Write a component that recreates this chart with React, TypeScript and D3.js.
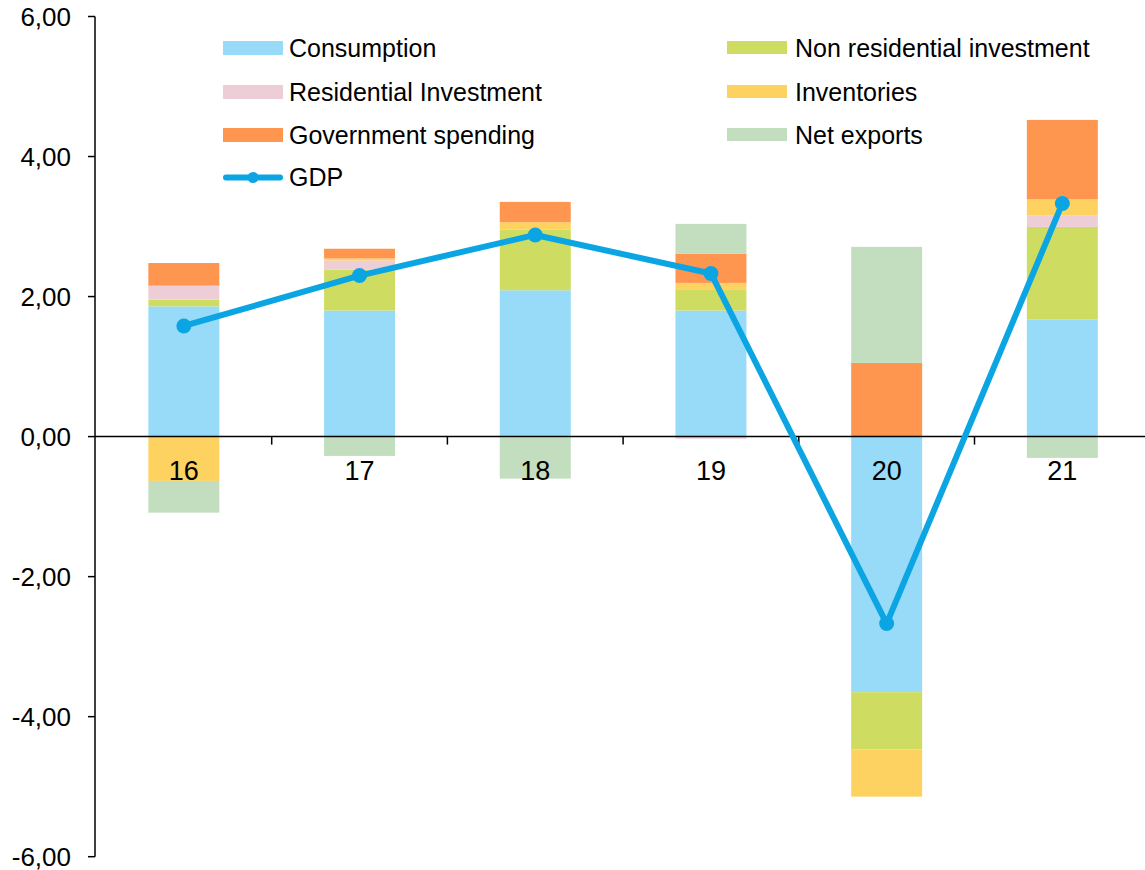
import React from "react";
import * as d3 from "d3";

const categories = ["16", "17", "18", "19", "20", "21"];
const consumption = [1.86, 1.8, 2.09, 1.8, -3.65, 1.67];
const nonResInvestment = [0.095, 0.585, 0.866, 0.295, -0.815, 1.325];
const resInvestment = [0.2, 0.13, -0.02, -0.03, 0, 0.167];
const inventories = [-0.633, 0.03, 0.106, 0.1, -0.677, 0.228];
const government = [0.324, 0.138, 0.29, 0.419, 1.053, 1.133];
const netExports = [-0.453, -0.276, -0.58, 0.424, 1.657, -0.304];
const gdp = [1.58, 2.3, 2.88, 2.33, -2.67, 3.33];
const yTicks = [-6, -4, -2, 0, 2, 4, 6];

const seriesNames = [
  "Consumption",
  "Non residential investment",
  "Residential Investment",
  "Inventories",
  "Government spending",
  "Net exports",
];
const seriesValues = [consumption, nonResInvestment, resInvestment, inventories, government, netExports];
const colors = ["#97DBF8", "#CEDD62", "#EDCDD6", "#FED260", "#FF9650", "#C2DEBF"];
const gdpColor = "#0BA5E3";

const W = 1145;
const H = 870;
const FONT = "'Liberation Sans', Arial, sans-serif";

export default function App() {
  const x = d3
    .scaleBand<string>()
    .domain(categories)
    .range([96, 1150.2])
    .paddingInner(0.596)
    .paddingOuter(0.298);
  const y = d3.scaleLinear().domain([-6, 6]).range([856.7, 16.5]);
  const step = x.step();

  const table = categories.map((c, i) => {
    const row: any = { cat: c };
    seriesNames.forEach((s, j) => (row[s] = seriesValues[j][i]));
    return row;
  });
  const stacked = d3.stack<any>().keys(seriesNames).offset(d3.stackOffsetDiverging)(table);

  const line = d3
    .line<number>()
    .x((_, i) => (x(categories[i]) as number) + x.bandwidth() / 2)
    .y((d) => y(d));

  const legendLeft = [
    { name: "Consumption", color: colors[0], y: 48 },
    { name: "Residential Investment", color: colors[2], y: 92 },
    { name: "Government spending", color: colors[4], y: 135 },
  ];
  const legendRight = [
    { name: "Non residential investment", color: colors[1], y: 48 },
    { name: "Inventories", color: colors[3], y: 92 },
    { name: "Net exports", color: colors[5], y: 135 },
  ];

  return (
    <svg
      width={W}
      height={H}
      style={{ position: "absolute", left: 0, top: 0, background: "#fff" }}
      fontFamily={FONT}
    >
      {stacked.map((layer, j) => (
        <g key={layer.key} fill={colors[j]}>
          {layer.map((d, i) => {
            const y0 = y(d[0]);
            const y1 = y(d[1]);
            return (
              <rect
                key={i}
                x={x(categories[i])}
                width={x.bandwidth()}
                y={Math.min(y0, y1)}
                height={Math.abs(y0 - y1)}
              />
            );
          })}
        </g>
      ))}

      {/* y axis */}
      <line x1={95} x2={95} y1={y(6)} y2={y(-6)} stroke="#000" strokeWidth={1.5} />
      {yTicks.map((t) => (
        <g key={t}>
          <line x1={88} x2={95} y1={y(t)} y2={y(t)} stroke="#000" strokeWidth={1.5} />
          <text x={71} y={y(t)} dy="0.35em" textAnchor="end" fontSize={26} fill="#000">
            {d3.format(".2f")(t).replace(".", ",").replace("−", "-")}
          </text>
        </g>
      ))}

      {/* zero axis */}
      <line x1={95} x2={W} y1={y(0)} y2={y(0)} stroke="#000" strokeWidth={1.5} />
      {categories.slice(1).map((c) => (
        <line
          key={c}
          x1={(x(c) as number) - (step - x.bandwidth()) / 2}
          x2={(x(c) as number) - (step - x.bandwidth()) / 2}
          y1={y(0)}
          y2={y(0) + 8}
          stroke="#000"
          strokeWidth={1.5}
        />
      ))}
      {categories.map((c) => (
        <text
          key={c}
          x={(x(c) as number) + x.bandwidth() / 2}
          y={480}
          textAnchor="middle"
          fontSize={27}
          fill="#000"
        >
          {c}
        </text>
      ))}

      {/* GDP line */}
      <path d={line(gdp) || ""} fill="none" stroke={gdpColor} strokeWidth={6} strokeLinejoin="round" />
      {gdp.map((v, i) => (
        <circle
          key={i}
          cx={(x(categories[i]) as number) + x.bandwidth() / 2}
          cy={y(v)}
          r={7.5}
          fill={gdpColor}
        />
      ))}

      {/* legend */}
      {legendLeft.map((l) => (
        <g key={l.name}>
          <rect x={223} y={l.y - 7} width={60} height={14} fill={l.color} />
          <text x={289} y={l.y} dy="0.35em" fontSize={25} fill="#000">
            {l.name}
          </text>
        </g>
      ))}
      {legendRight.map((l) => (
        <g key={l.name}>
          <rect x={727} y={l.y - 7} width={60} height={13} fill={l.color} />
          <text x={795} y={l.y} dy="0.35em" fontSize={25} fill="#000">
            {l.name}
          </text>
        </g>
      ))}
      <g>
        <line x1={226} x2={280} y1={177.5} y2={177.5} stroke={gdpColor} strokeWidth={6} strokeLinecap="round" />
        <circle cx={253} cy={177.5} r={5.5} fill={gdpColor} />
        <text x={289} y={177.5} dy="0.35em" fontSize={25} fill="#000">
          GDP
        </text>
      </g>
    </svg>
  );
}
